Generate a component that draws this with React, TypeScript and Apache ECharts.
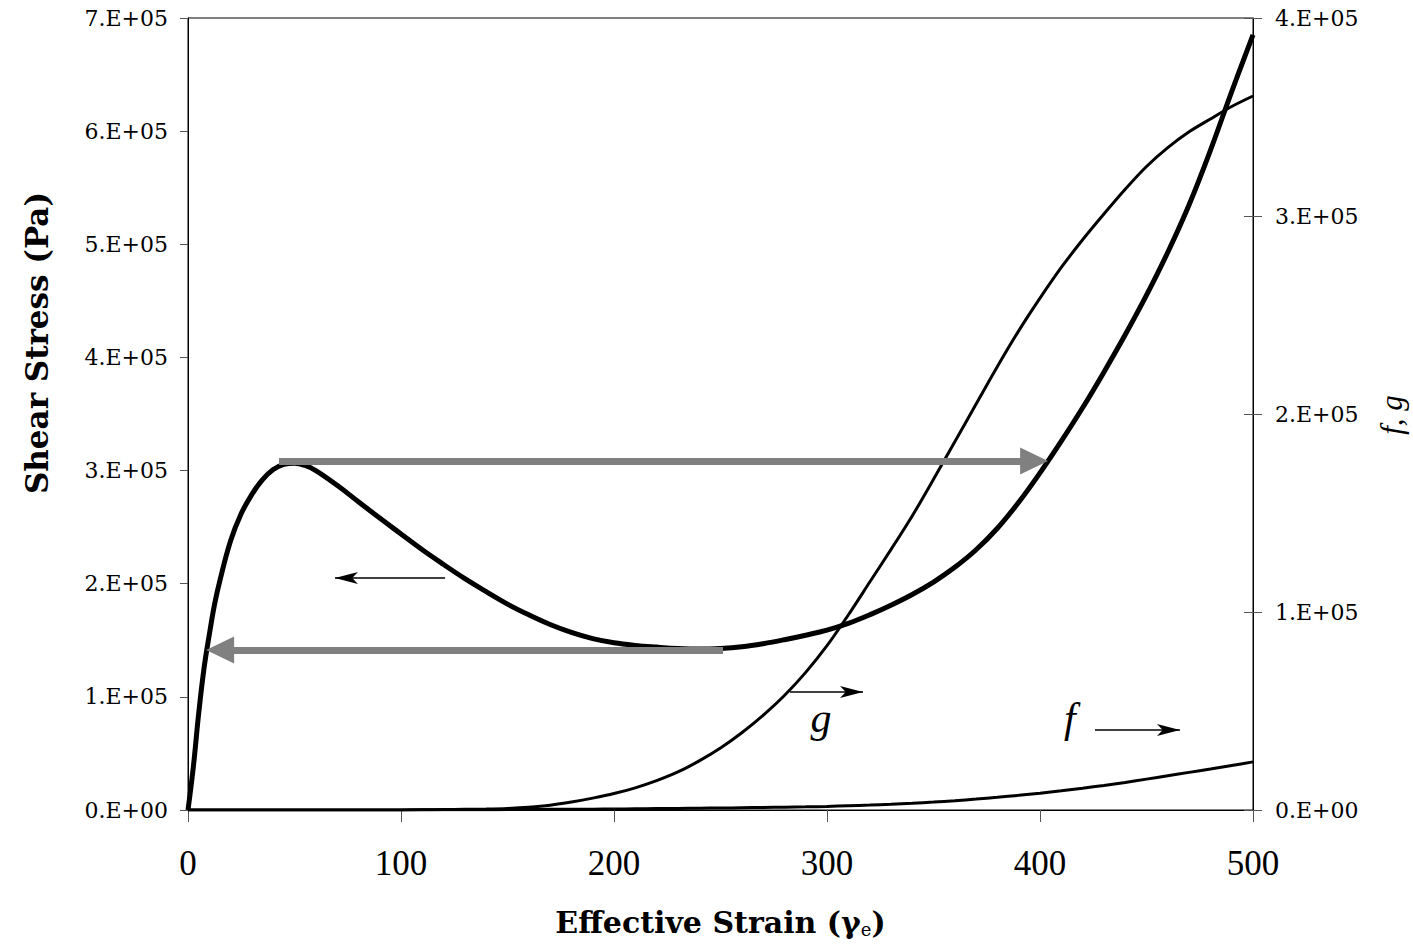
import React, { useEffect, useRef } from "react";
import * as echarts from "echarts";

// Effective strain samples for the shear-stress curve
const stressStrain = [
  0, 2.5, 5, 7.5, 10, 12.5, 15, 20, 25, 30, 35, 40, 45, 50, 55, 60,
  70, 80, 90, 100, 110, 120, 130, 140, 150, 160, 170, 180, 190, 200,
  210, 220, 230, 240, 250, 260, 270, 280, 290, 300, 310, 320, 330, 340,
  350, 360, 370, 380, 390, 400, 410, 420, 430, 440, 450, 460, 470, 480,
  490, 500,
];
// Shear stress (Pa), left axis
const shearStress = [
  0, 38000, 85000, 125000, 155000, 182000, 203000, 238000, 262000, 279000,
  292000, 301000, 305500, 306500, 304500, 300000, 287000, 272500, 258000,
  244000, 230000, 217000, 204500, 193000, 182000, 172500, 164000, 157000,
  151500, 147800, 145500, 144000, 142800, 142300, 142800, 144300, 147000,
  150500, 154500, 159000, 165000, 172500, 181000, 190500, 201500, 214500,
  230000, 249000, 272000, 298000, 326000, 355500, 387000, 420000, 455000,
  493000, 535000, 583000, 635000, 685000,
];

// Effective strain samples for f and g
const fgStrain = [
  0, 50, 100, 110, 120, 130, 140, 150, 160, 170, 180, 190, 200, 210, 220,
  230, 240, 250, 260, 270, 280, 290, 300, 310, 320, 330, 340, 350, 360, 370,
  380, 390, 400, 410, 420, 430, 440, 450, 460, 470, 480, 490, 500,
];
// g, right axis
const gValues = [
  0, 0, 50, 100, 200, 330, 500, 800, 1400, 2400, 4000, 6000, 8300, 11200,
  14800, 19200, 24800, 31300, 39000, 47800, 57800, 69500, 83000, 98500,
  115000, 131500, 148500, 167000, 186000, 205000, 224000, 242000, 258500,
  274000, 288000, 301000, 313500, 325000, 334500, 342500, 349000, 355300,
  360600,
];
// f, right axis
const fValues = [
  0, 0, 50, 70, 100, 130, 170, 200, 260, 320, 380, 440, 500, 600, 700, 800,
  900, 1000, 1150, 1300, 1450, 1600, 1800, 2150, 2500, 2900, 3400, 4000,
  4700, 5500, 6400, 7400, 8500, 9700, 11000, 12400, 13900, 15600, 17300,
  19000, 20700, 22500, 24300,
];

const xTickLabels = ["0", "100", "200", "300", "400", "500"];
const leftTickLabels = [
  "0.E+00", "1.E+05", "2.E+05", "3.E+05", "4.E+05", "5.E+05", "6.E+05", "7.E+05",
];
const rightTickLabels = ["0.E+00", "1.E+05", "2.E+05", "3.E+05", "4.E+05"];

// Annotation arrows, in (strain, shear stress) units: [from, tip]
const grayArrows = [
  [[42.7, 308500], [403.8, 308500]],
  [[251.2, 141400], [8.5, 141400]],
];
const blackArrows = [
  [[120.7, 205000], [64.3, 205000]],
  [[282.6, 104300], [321.6, 104300]],
  [[425.8, 70700], [470.4, 70700]],
];
// Curve labels, in (strain, shear stress) units
const curveLabels = [
  { text: "g", at: [297.2, 81000] },
  { text: "f", at: [414.0, 81000] },
];

const SERIF = '"DejaVu Serif", "Liberation Serif", serif';
const TIMES = '"Liberation Serif", "DejaVu Serif", serif';

export default function App() {
  const ref = useRef<HTMLDivElement>(null);

  useEffect(() => {
    const chart = echarts.init(ref.current!, undefined, { renderer: "svg" });

    const plotLeft = 188;
    const plotRight = 1253;
    const unitsPerPx = 500 / (plotRight - plotLeft);

    const shorten = (seg: number[][], px: number) => {
      const [a, b] = seg;
      const dir = b[0] > a[0] ? 1 : -1;
      return [
        { coord: [a[0], a[1]] },
        { coord: [b[0] - dir * px * unitsPerPx, b[1]] },
      ];
    };

    const option: any = {
      animation: false,
      backgroundColor: "#ffffff",
      grid: {
        left: plotLeft,
        right: 1413 - plotRight,
        top: 18,
        bottom: 947 - 810,
        show: true,
        borderColor: "#000",
        borderWidth: 1,
        backgroundColor: "transparent",
        outerBoundsMode: "none",
      },
      xAxis: {
        type: "value",
        min: 0,
        max: 500,
        interval: 100,
        axisLine: { show: true, onZero: false, lineStyle: { color: "#000", width: 1 } },
        axisTick: { show: true, inside: false, length: 12, lineStyle: { color: "#555" } },
        splitLine: { show: false },
        axisLabel: {
          margin: 36,
          fontFamily: TIMES,
          fontSize: 35,
          color: "#000",
          formatter: (v: number) => xTickLabels[Math.round(v / 100)] ?? "",
        },
        name: "Effective Strain (γ{sub|e})",
        nameLocation: "middle",
        nameGap: 96,
        nameTextStyle: {
          fontFamily: SERIF,
          fontWeight: "bold",
          fontSize: 30,
          color: "#000",
          rich: {
            sub: {
              fontFamily: SERIF,
              fontWeight: "normal",
              fontSize: 18,
              color: "#000",
              verticalAlign: "bottom",
              padding: [14, 0, 0, 0],
            },
          },
        },
      },
      yAxis: [
        {
          type: "value",
          position: "left",
          min: 0,
          max: 700000,
          interval: 100000,
          axisLine: { show: true, lineStyle: { color: "#000", width: 1 } },
          axisTick: { show: true, inside: false, length: 8, lineStyle: { color: "#555" } },
          splitLine: { show: false },
          axisLabel: {
            margin: 20,
            fontFamily: SERIF,
            fontSize: 22,
            color: "#000",
            formatter: (v: number) => leftTickLabels[Math.round(v / 100000)] ?? "",
          },
        },
        {
          type: "value",
          position: "right",
          min: 0,
          max: 400000,
          interval: 100000,
          axisLine: { show: true, lineStyle: { color: "#000", width: 1 } },
          axisTick: { show: true, inside: false, length: 9, lineStyle: { color: "#555" } },
          splitLine: { show: false },
          axisLabel: {
            margin: 22,
            fontFamily: SERIF,
            fontSize: 22,
            color: "#000",
            formatter: (v: number) => rightTickLabels[Math.round(v / 100000)] ?? "",
          },
        },
        {
          type: "value",
          position: "right",
          min: 0,
          max: 400000,
          interval: 100000,
          axisLine: { show: false },
          axisTick: { show: true, inside: true, length: 9, lineStyle: { color: "#555" } },
          splitLine: { show: false },
          axisLabel: { show: false },
        },
      ],
      series: [
        {
          name: "Shear Stress",
          type: "line",
          yAxisIndex: 0,
          data: stressStrain.map((x, i) => [x, shearStress[i]]),
          showSymbol: false,
          symbol: "none",
          smooth: 0.4,
          lineStyle: { color: "#000", width: 5 },
          z: 2,
        },
        {
          name: "grayArrows",
          type: "line",
          yAxisIndex: 0,
          data: [],
          z: 3,
          markLine: {
            silent: true,
            symbol: ["none", "triangle"],
            symbolSize: [27, 28],
            label: { show: false },
            emphasis: { disabled: true },
            lineStyle: { color: "#808080", width: 7, type: "solid", opacity: 1 },
            itemStyle: { color: "#808080" },
            data: grayArrows.map((s) => shorten(s, 14)),
          },
        },
        {
          name: "g",
          type: "line",
          yAxisIndex: 1,
          data: fgStrain.map((x, i) => [x, gValues[i]]),
          showSymbol: false,
          symbol: "none",
          smooth: 0.3,
          lineStyle: { color: "#000", width: 3 },
          z: 4,
        },
        {
          name: "f",
          type: "line",
          yAxisIndex: 1,
          data: fgStrain.map((x, i) => [x, fValues[i]]),
          showSymbol: false,
          symbol: "none",
          smooth: 0.3,
          lineStyle: { color: "#000", width: 3 },
          z: 4,
        },
        {
          name: "blackArrows",
          type: "line",
          yAxisIndex: 0,
          data: [],
          z: 5,
          markLine: {
            silent: true,
            symbol: ["none", "arrow"],
            symbolSize: [9, 23],
            label: { show: false },
            emphasis: { disabled: true },
            lineStyle: { color: "#000", width: 1.5, type: "solid", opacity: 1 },
            itemStyle: { color: "#000" },
            data: blackArrows.map((s) => shorten(s, 10)),
          },
        },
      ],
    };

    chart.setOption(option);

    const texts: any[] = curveLabels.map((c) => {
      const p = chart.convertToPixel({ xAxisIndex: 0, yAxisIndex: 0 }, c.at) as number[];
      return {
        type: "text",
        x: p[0],
        y: p[1],
        z: 10,
        style: {
          text: c.text,
          fontFamily: TIMES,
          fontStyle: "italic",
          fontSize: 42,
          fill: "#000",
          align: "center",
          verticalAlign: "middle",
        },
      };
    });
    texts.push({
      type: "text",
      x: 37,
      y: 343,
      rotation: Math.PI / 2,
      style: {
        text: "Shear Stress (Pa)",
        fontFamily: SERIF,
        fontWeight: "bold",
        fontSize: 31,
        fill: "#000",
        align: "center",
        verticalAlign: "middle",
      },
    });
    texts.push({
      type: "text",
      x: 1391,
      y: 415,
      rotation: Math.PI / 2,
      style: {
        text: "f, g",
        fontFamily: TIMES,
        fontStyle: "italic",
        fontSize: 31,
        fill: "#000",
        align: "center",
        verticalAlign: "middle",
      },
    });
    chart.setOption({ graphic: texts });

    return () => chart.dispose();
  }, []);

  return (
    <div
      ref={ref}
      style={{ position: "absolute", left: 0, top: 0, width: 1413, height: 947, background: "#fff" }}
    />
  );
}
